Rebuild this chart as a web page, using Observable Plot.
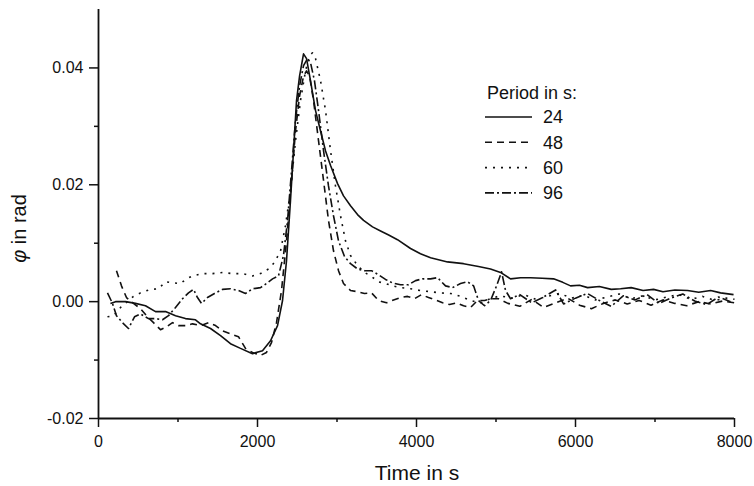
<!DOCTYPE html>
<html>
<head>
<meta charset="utf-8">
<script src="https://cdn.jsdelivr.net/npm/d3@7"></script>
<script src="https://cdn.jsdelivr.net/npm/@observablehq/plot@0.6"></script>
<style>
  html, body { margin: 0; padding: 0; background: #fff; }
  #chart { width: 754px; height: 486px; }
  svg { font-family: "Liberation Sans", Arial, Helvetica, sans-serif; }
</style>
</head>
<body>
<div id="chart"></div>
<script>
// ---- Data (time in s, phase in rad) ----
const periods = ["24", "48", "60", "96"];
const dashes = ["none", "7,5", "2,6", "9,3,2,3"];

const t24 = [150, 214, 340, 465, 591, 717, 843, 969, 1094, 1220, 1283, 1409, 1535, 1660, 1786, 1937, 2063, 2164, 2252, 2315, 2365, 2415, 2453, 2491, 2529, 2579, 2617, 2667, 2730, 2793, 2856, 2919, 3007, 3082, 3170, 3258, 3334, 3447, 3548, 3650, 3761, 3925, 4050, 4177, 4390, 4592, 4780, 4931, 5057, 5183, 5309, 5434, 5580, 5724, 5840, 5938, 6050, 6152, 6300, 6450, 6567, 6700, 6850, 6982, 7100, 7250, 7410, 7550, 7700, 7825, 7988];
const v24 = [-0.0003, 0.0, 0.0, -0.0003, -0.0007, -0.0017, -0.0017, -0.0024, -0.0029, -0.0031, -0.0038, -0.0046, -0.0058, -0.0072, -0.0080, -0.0089, -0.0084, -0.0067, -0.0041, 0.0002, 0.0070, 0.0173, 0.0258, 0.0344, 0.0386, 0.0424, 0.0416, 0.0378, 0.0327, 0.0292, 0.0258, 0.0233, 0.0202, 0.0181, 0.0164, 0.0149, 0.0139, 0.0128, 0.0121, 0.0114, 0.0106, 0.0091, 0.0082, 0.0075, 0.0068, 0.0065, 0.0060, 0.0056, 0.0050, 0.0039, 0.0041, 0.0041, 0.0040, 0.0039, 0.0033, 0.0027, 0.0028, 0.0024, 0.0026, 0.0021, 0.0022, 0.0024, 0.0019, 0.0021, 0.0017, 0.0020, 0.0019, 0.0016, 0.0019, 0.0015, 0.0012];

const t48 = [226, 289, 352, 440, 528, 616, 692, 780, 855, 931, 1006, 1094, 1182, 1283, 1384, 1472, 1560, 1660, 1761, 1849, 1937, 2038, 2113, 2176, 2239, 2302, 2365, 2428, 2478, 2529, 2579, 2617, 2655, 2705, 2768, 2831, 2893, 2956, 3019, 3082, 3170, 3258, 3346, 3434, 3522, 3623, 3711, 3799, 3887, 3975, 4063, 4151, 4240, 4328, 4416, 4504, 4592, 4680, 4768, 4856, 4944, 5032, 5150, 5300, 5450, 5600, 5750, 5900, 6050, 6200, 6350, 6500, 6650, 6800, 6950, 7100, 7250, 7400, 7550, 7700, 7850, 8000];
const v48 = [0.0053, 0.0027, 0.0007, -0.0003, -0.0012, -0.0026, -0.0036, -0.0048, -0.0043, -0.0036, -0.0041, -0.0041, -0.0038, -0.0041, -0.0036, -0.0041, -0.0050, -0.0055, -0.0060, -0.0080, -0.0087, -0.0092, -0.0087, -0.0070, -0.0036, 0.0019, 0.0104, 0.0207, 0.0292, 0.0352, 0.0386, 0.0395, 0.0386, 0.0344, 0.0275, 0.0207, 0.0139, 0.0087, 0.0053, 0.0031, 0.0019, 0.0017, 0.0014, 0.0015, 0.0002, -0.0002, 0.0003, 0.0007, 0.0009, 0.0005, 0.0012, 0.0007, 0.0003, -0.0002, -0.0005, -0.0002, -0.0007, -0.0010, 0.0002, 0.0002, 0.0005, 0.0005, -0.0003, -0.0008, 0.0004, -0.0010, -0.0002, 0.0006, -0.0006, -0.0012, -0.0003, 0.0003, -0.0004, 0.0002, -0.0006, 0.0003, -0.0003, -0.0007, 0.0000, -0.0004, 0.0001, -0.0002];

const t60 = [113, 189, 277, 365, 440, 528, 654, 755, 843, 943, 1032, 1107, 1183, 1308, 1434, 1560, 1686, 1812, 1937, 2038, 2139, 2214, 2290, 2352, 2415, 2478, 2541, 2604, 2654, 2692, 2730, 2793, 2856, 2919, 2981, 3044, 3107, 3170, 3258, 3346, 3434, 3522, 3610, 3698, 3799, 3925, 4051, 4177, 4302, 4428, 4554, 4680, 4806, 4931, 5050, 5200, 5350, 5500, 5650, 5800, 5950, 6100, 6250, 6400, 6550, 6700, 6850, 7000, 7150, 7300, 7450, 7600, 7750, 7900, 8000];
const v60 = [-0.0026, -0.0024, -0.0010, 0.0, 0.0009, 0.0015, 0.0021, 0.0022, 0.0034, 0.0032, 0.0031, 0.0039, 0.0044, 0.0048, 0.0048, 0.0050, 0.0048, 0.0048, 0.0044, 0.0048, 0.0056, 0.0067, 0.0087, 0.0130, 0.0190, 0.0275, 0.0344, 0.0395, 0.0421, 0.0426, 0.0416, 0.0378, 0.0327, 0.0258, 0.0198, 0.0147, 0.0104, 0.0079, 0.0062, 0.0050, 0.0043, 0.0034, 0.0031, 0.0027, 0.0024, 0.0022, 0.0019, 0.0017, 0.0015, 0.0014, 0.0009, 0.0002, -0.0002, 0.0005, 0.0010, 0.0006, 0.0012, 0.0004, 0.0009, 0.0014, 0.0006, 0.0011, 0.0003, 0.0008, 0.0013, 0.0005, 0.0010, 0.0003, 0.0008, 0.0012, 0.0004, 0.0009, 0.0002, 0.0006, 0.0004];

const t96 = [113, 176, 226, 302, 377, 453, 528, 629, 717, 805, 881, 969, 1057, 1132, 1195, 1245, 1296, 1371, 1459, 1560, 1661, 1761, 1849, 1937, 2038, 2113, 2189, 2264, 2327, 2378, 2428, 2478, 2529, 2579, 2629, 2667, 2717, 2768, 2831, 2893, 2956, 3019, 3095, 3170, 3258, 3346, 3434, 3522, 3610, 3698, 3799, 3900, 3988, 4076, 4177, 4265, 4365, 4453, 4554, 4642, 4718, 4780, 4856, 4931, 5007, 5070, 5120, 5183, 5300, 5450, 5600, 5750, 5850, 6000, 6150, 6300, 6450, 6600, 6750, 6900, 7050, 7200, 7350, 7500, 7650, 7800, 7950];
const v96 = [0.0015, -0.0003, -0.0024, -0.0036, -0.0046, -0.0026, -0.0021, -0.0029, -0.0029, -0.0031, -0.0024, -0.0010, 0.0005, 0.0015, 0.0021, 0.0007, -0.0003, 0.0007, 0.0014, 0.0021, 0.0022, 0.0019, 0.0014, 0.0022, 0.0024, 0.0031, 0.0039, 0.0044, 0.0079, 0.0139, 0.0224, 0.0310, 0.0369, 0.0404, 0.0416, 0.0409, 0.0378, 0.0327, 0.0258, 0.0198, 0.0147, 0.0104, 0.0077, 0.0065, 0.0056, 0.0053, 0.0053, 0.0046, 0.0038, 0.0032, 0.0029, 0.0029, 0.0036, 0.0039, 0.0039, 0.0041, 0.0027, 0.0024, 0.0031, 0.0034, 0.0027, 0.0002, -0.0007, 0.0002, 0.0027, 0.0051, 0.0019, 0.0005, 0.0012, -0.0002, 0.0008, 0.0020, -0.0004, 0.0006, 0.0014, 0.0002, -0.0008, 0.0010, 0.0003, 0.0012, -0.0003, 0.0006, 0.0013, 0.0001, -0.0005, 0.0008, 0.0000];

const xMajor = [0, 2000, 4000, 6000, 8000];
const xMinor = [1000, 3000, 5000, 7000];
const yMajor = [-0.02, 0.00, 0.02, 0.04];
const yMinor = [-0.01, 0.01, 0.03];
const xTitle = "Time in s";
const yTitleSym = "φ";
const yTitleRest = " in rad";
const legendTitle = "Period in s:";

// ---- Build series ----
const seriesT = [t24, t48, t60, t96];
const seriesV = [v24, v48, v60, v96];
const series = periods.map((p, i) => seriesT[i].map((t, j) => ({t, v: seriesV[i][j], p})));

const ink = "#111";
const fam = '"Liberation Sans", Arial, Helvetica, sans-serif';

const chart = Plot.plot({
  width: 754,
  height: 486,
  marginLeft: 98,
  marginRight: 20,
  marginTop: 9,
  marginBottom: 68,
  style: {fontFamily: fam, color: ink, background: "#fff", overflow: "visible"},
  x: {domain: [0, 8000]},
  y: {domain: [-0.02, 0.05]},
  marks: [
    ...series.map((s, i) => Plot.line(s, {
      x: "t", y: "v", stroke: ink, strokeWidth: 1.6,
      strokeDasharray: dashes[i] === "none" ? undefined : dashes[i],
      strokeLinejoin: "round", strokeLinecap: "butt"
    })),
    Plot.axisX({ticks: xMajor, tickSize: 9, tickPadding: 8, fontSize: 16, tickFormat: d => String(d), label: null, stroke: ink, strokeWidth: 1.5}),
    Plot.axisX({ticks: xMinor, tickSize: 4, tickFormat: () => "", label: null, stroke: ink, strokeWidth: 1.5}),
    Plot.axisY({ticks: yMajor, tickSize: 9, tickPadding: 6, fontSize: 16, tickFormat: d => d.toFixed(2), label: null, stroke: ink, strokeWidth: 1.5}),
    Plot.axisY({ticks: yMinor, tickSize: 4, tickFormat: () => "", label: null, stroke: ink, strokeWidth: 1.5}),
    Plot.ruleX([0], {stroke: ink, strokeWidth: 1.8}),
    Plot.ruleY([-0.02], {stroke: ink, strokeWidth: 1.8})
  ]
});

document.getElementById("chart").appendChild(chart);

// ---- Axis titles & legend (text kept as real SVG text) ----
const svg = d3.select(chart);
const xs = chart.scale("x"), ys = chart.scale("y");
const x0 = xs.apply(0), x1 = xs.apply(8000);
const yBot = ys.apply(-0.02), yTop = ys.apply(0.05);

svg.append("text")
  .attr("x", (x0 + x1) / 2 + 1)
  .attr("y", yBot + 62)
  .attr("text-anchor", "middle")
  .attr("font-size", 21)
  .attr("fill", ink)
  .text(xTitle);

const yt = svg.append("text")
  .attr("transform", `translate(${x0 - 72},${(yBot + yTop) / 2 + 15}) rotate(-90)`)
  .attr("text-anchor", "middle")
  .attr("font-size", 20)
  .attr("fill", ink);
yt.append("tspan").attr("font-style", "italic").text(yTitleSym);
yt.append("tspan").text(yTitleRest);

// legend
const lg = svg.append("g")
  .attr("transform", `translate(${x0 + 389},${yTop + 84})`)
  .attr("text-anchor", "start");
lg.append("text").attr("x", 0).attr("y", 0).attr("dy", "0.35em")
  .attr("text-anchor", "start")
  .attr("font-size", 18).attr("fill", ink).text(legendTitle);
periods.forEach((p, i) => {
  const yy = 24 + i * 25.3;
  lg.append("line").attr("x1", -2).attr("x2", 45).attr("y1", yy).attr("y2", yy)
    .attr("stroke", ink).attr("stroke-width", 1.6)
    .attr("stroke-dasharray", dashes[i] === "none" ? null : dashes[i]);
  lg.append("text").attr("x", 56).attr("y", yy).attr("dy", "0.35em")
    .attr("text-anchor", "start")
    .attr("font-size", 18).attr("fill", ink).text(p);
});
</script>
</body>
</html>
